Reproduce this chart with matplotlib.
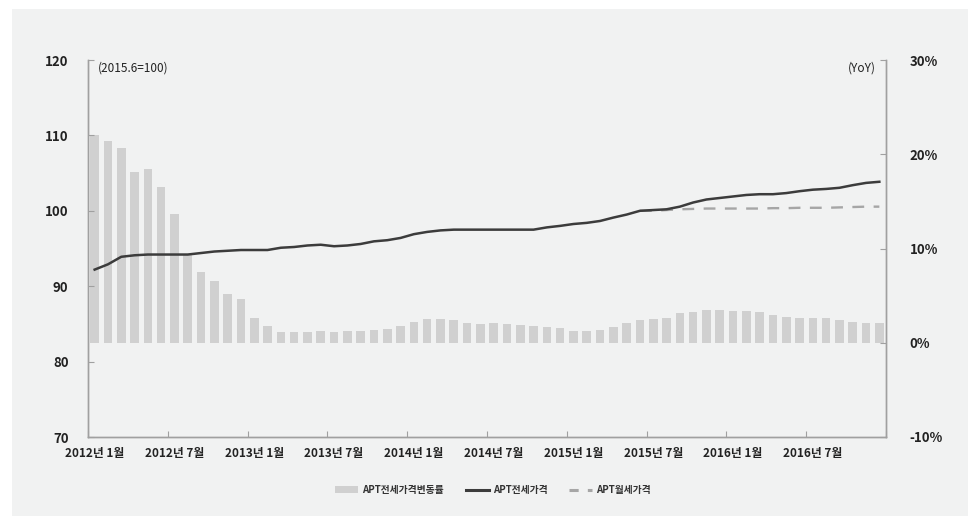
import matplotlib
matplotlib.use("Agg")
import matplotlib.pyplot as plt
from matplotlib.patches import Rectangle
from matplotlib.lines import Line2D
from matplotlib.patches import Patch

plt.rcParams['font.family'] = ['Noto Sans CJK KR', 'DejaVu Sans']

months = [f"{2012 + i // 12}년 {i % 12 + 1}월" for i in range(60)]

jeonse_change = [22.0, 21.4, 20.7, 18.1, 18.4, 16.5, 13.7, 9.3, 7.5, 6.5,
                 5.2, 4.6, 2.6, 1.8, 1.1, 1.1, 1.1, 1.2, 1.1, 1.2,
                 1.2, 1.3, 1.48, 1.73, 2.19, 2.51, 2.51, 2.4, 2.09, 1.98,
                 2.09, 1.98, 1.87, 1.77, 1.7, 1.6, 1.27, 1.27, 1.38, 1.7,
                 2.09, 2.4, 2.51, 2.62, 3.11, 3.29, 3.5, 3.5, 3.4, 3.4,
                 3.29, 2.9, 2.69, 2.58, 2.58, 2.58, 2.37, 2.19, 2.09, 2.09]

jeonse_price = [92.2, 92.9, 93.9, 94.1, 94.2, 94.2, 94.2, 94.2, 94.4, 94.6,
                94.7, 94.8, 94.8, 94.8, 95.1, 95.2, 95.4, 95.5, 95.3, 95.4,
                95.6, 95.95, 96.1, 96.4, 96.9, 97.2, 97.4, 97.5, 97.5, 97.5,
                97.5, 97.5, 97.5, 97.5, 97.8, 98.0, 98.25, 98.4, 98.65, 99.1,
                99.5, 100.0, 100.1, 100.2, 100.55, 101.1, 101.5, 101.7, 101.9, 102.1,
                102.2, 102.2, 102.35, 102.6, 102.8, 102.9, 103.05, 103.4, 103.7, 103.85]

wolse_start = 41
wolse_price = [100.0, 100.0, 100.1, 100.2, 100.25, 100.3, 100.3, 100.3, 100.3, 100.3,
               100.35, 100.35, 100.4, 100.4, 100.4, 100.45, 100.5, 100.55, 100.55]

left_ticks = [70, 80, 90, 100, 110, 120]
right_ticks = [-10, 0, 10, 20, 30]
right_labels = ["-10%", "0%", "10%", "20%", "30%"]

W, H = 968, 516
fig = plt.figure(figsize=(W / 100, H / 100), dpi=100, facecolor='white')
panel_col = '#f1f2f2'
fig.patches.append(Rectangle((12 / W, 0), 1 - 12 / W, 1 - 9 / H, transform=fig.transFigure,
                             facecolor=panel_col, edgecolor='none', zorder=-10))

ax = fig.add_axes([88 / W, 1 - 437 / H, (886 - 88) / W, (437 - 60) / H])
ax.set_facecolor('none')
ax2 = ax.twinx()
ax2.set_facecolor('none')

x = list(range(60))
# bars on right axis
ax2.bar(x, jeonse_change, width=0.64, color='#d0d0d0', zorder=1)
ax2.set_ylim(-10, 30)
ax2.set_yticks(right_ticks)
ax2.set_yticklabels(right_labels)

# lines on left axis drawn on top
ax.set_zorder(ax2.get_zorder() + 1)
ax.plot(list(range(wolse_start, wolse_start + len(wolse_price))), wolse_price,
        color='#a6a6a6', lw=1.7, dashes=(5, 4), zorder=2)
ax.plot(x, jeonse_price, color='#3c3c3c', lw=1.8, zorder=3)
ax.set_ylim(70, 120)
ax.set_yticks(left_ticks)
ax.set_xlim(-0.5, 59.5)

spine_col = '#a0a0a0'
for a in (ax, ax2):
    a.spines['top'].set_visible(False)
    for s in ('left', 'right', 'bottom'):
        a.spines[s].set_color(spine_col)
        a.spines[s].set_linewidth(1.0)

ax.tick_params(axis='y', direction='in', length=4, color=spine_col, pad=14,
               labelsize=9.5, labelcolor='#222222')
ax2.tick_params(axis='y', direction='in', length=4, color=spine_col, pad=17,
                labelsize=9.5, labelcolor='#222222')
for lab in ax.get_yticklabels() + ax2.get_yticklabels():
    lab.set_fontweight('bold')

# x axis: boundary ticks every 6 months, labels at category centres
ax.set_xticks([i - 0.5 for i in range(0, 61, 6)])
ax.set_xticklabels([])
ax.tick_params(axis='x', which='major', direction='in', length=4, color=spine_col)
ax.set_xticks(list(range(0, 60, 6)), minor=True)
ax.set_xticklabels([months[i] for i in range(0, 60, 6)], minor=True)
ax.tick_params(axis='x', which='minor', length=0, pad=7, labelsize=8.5, labelcolor='#222222')
for lab in ax.get_xticklabels(minor=True):
    lab.set_fontweight('bold')
ax2.tick_params(axis='x', length=0)

ax.text(98 / W, 1 - 68 / H, "(2015.6=100)", transform=fig.transFigure, fontsize=8.5,
        color='#222222', va='center', ha='left')
ax.text(876 / W, 1 - 68 / H, "(YoY)", transform=fig.transFigure, fontsize=8.5,
        color='#222222', va='center', ha='right')

handles = [Patch(facecolor='#d0d0d0', edgecolor='none'),
           Line2D([], [], color='#3c3c3c', lw=2.2),
           Line2D([], [], color='#a6a6a6', lw=2.2, dashes=(3, 3))]
labels = ["APT전세가격변동률", "APT전세가격", "APT월세가격"]
leg = fig.legend(handles, labels, loc='center', bbox_to_anchor=(493 / W, 1 - 490 / H),
                 ncol=3, frameon=False, fontsize=7, handlelength=2.4, handleheight=0.6,
                 columnspacing=2.2, handletextpad=0.4)
for t in leg.get_texts():
    t.set_fontweight('bold')
    t.set_color('#333333')

fig.savefig('out.png', dpi=100, facecolor='white')
